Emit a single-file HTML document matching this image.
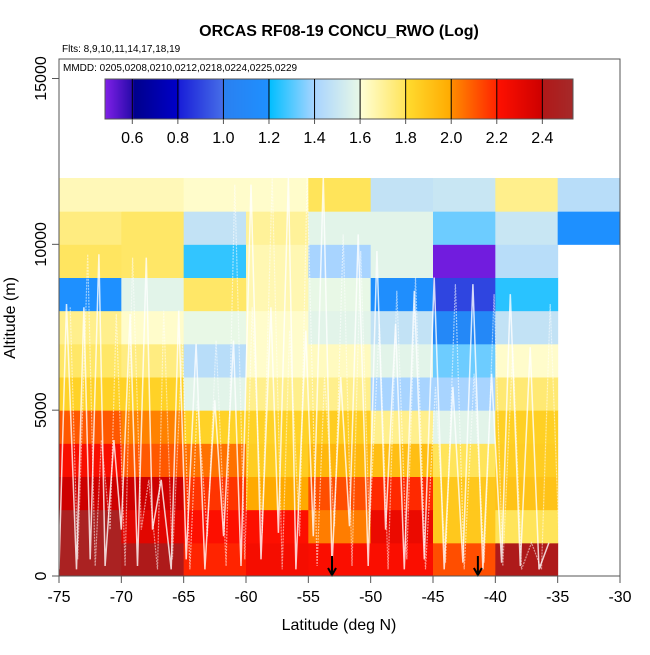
<!DOCTYPE html>
<html><head><meta charset="utf-8"><style>
body{margin:0;background:#fff;}
svg text{font-family:"Liberation Sans",sans-serif;}
</style></head><body>
<svg id="chart" width="650" height="650" viewBox="0 0 650 650" xmlns="http://www.w3.org/2000/svg">
<g id="cells"></g>
<g id="tracks"></g>
<g id="arrows"></g>
<rect x="59" y="59" width="561" height="517" fill="none" stroke="#555" stroke-width="1"/>
<text x="339" y="36" font-size="16" font-weight="bold" text-anchor="middle">ORCAS RF08-19 CONCU_RWO (Log)</text>
<text x="62" y="52" font-size="10">Flts: 8,9,10,11,14,17,18,19</text>
<text x="63" y="71" font-size="10">MMDD: 0205,0208,0210,0212,0218,0224,0225,0229</text>
<g id="cbar"></g>
<g id="xaxis"></g>
<g id="yaxis"></g>
<text x="339" y="630" font-size="16" text-anchor="middle">Latitude (deg N)</text>
<text transform="translate(15,318) rotate(-90)" font-size="16" text-anchor="middle">Altitude (m)</text>
</svg>
<script>
const latBins=[-75,-70,-65,-60,-55,-50,-45,-40,-35,-30];
const altBins=[0,1000,2000,3000,4000,5000,6000,7000,8000,9000,10000,11000,12000];
// rows from bottom (0-1k) upward; null = no data
const cellValues=[
[2.48,2.42,2.20,2.24,2.22,2.22,2.12,2.42,null],
[2.48,2.32,2.21,2.21,2.03,2.28,1.88,1.80,null],
[2.40,2.40,2.17,2.00,2.12,2.19,1.88,1.90,null],
[2.23,2.10,2.05,1.86,1.95,1.92,1.80,1.86,null],
[2.10,2.02,1.84,1.84,1.86,1.72,1.58,1.85,null],
[1.84,1.84,1.58,1.72,1.72,1.40,1.40,1.76,null],
[1.78,1.74,1.45,1.62,1.64,1.58,1.33,1.62,null],
[1.72,1.62,1.60,1.62,1.58,1.48,1.10,1.48,null],
[1.20,1.58,1.78,1.66,1.60,1.18,0.90,1.25,null],
[1.79,1.78,1.26,1.66,1.40,1.58,0.50,1.45,null],
[1.74,1.78,1.48,1.70,1.58,1.58,1.33,1.50,1.20],
[1.65,1.65,1.62,1.62,1.80,1.48,1.50,1.72,1.45]
];
const cbarTicks=[0.6,0.8,1.0,1.2,1.4,1.6,1.8,2.0,2.2,2.4];
const xTicks=[-75,-70,-65,-60,-55,-50,-45,-40,-35,-30];
const yTicks=[0,5000,10000,15000];
const arrowLats=[-53.1,-41.4];
const trackLat=[-75,-74.4,-73.6,-73,-72.5,-71.8,-71.3,-70.6,-70,-69.3,-68.7,-68,-67.5,-66.8,-66,-65.4,-64.8,-64,-63.3,-62.5,-61.8,-61,-60.4,-59.6,-58.8,-58,-57.4,-56.6,-56,-55.2,-54.6,-53.8,-53.1,-52.4,-51.7,-51,-50.2,-49.5,-48.8,-48,-47.3,-46.5,-45.7,-44.9,-44.1,-43.4,-42.6,-41.8,-41,-40.3,-39.5,-38.8,-38,-37.2,-36.5,-35.7];
const trackAlt=[200,8200,200,8100,500,9700,300,4100,1400,7900,300,9600,1400,2900,200,8000,500,7000,200,5300,1200,7100,300,11800,500,8100,1300,12000,200,7400,1200,12000,300,6000,1500,10300,300,9800,1400,7600,200,8600,500,9000,200,5700,400,8800,200,6100,400,8500,300,6900,200,1000];

const svg=document.getElementById('chart');
const NS='http://www.w3.org/2000/svg';
const X0=59,X1=620,Y0=576,PX=0.033167;
function xs(v){return X0+(v+75)/45*(X1-X0);}
function ys(v){return Y0-v*PX;}
const stops=[[0.48,[128,32,232]],[0.6,[40,10,170]],[0.61,[0,0,140]],[0.8,[0,0,200]],[0.81,[26,32,216]],[1.0,[70,110,232]],[1.001,[42,128,240]],[1.2,[30,144,255]],[1.201,[0,190,255]],[1.4,[168,212,255]],[1.6,[232,248,230]],[1.601,[255,255,215]],[1.8,[255,228,90]],[1.801,[255,220,48]],[2.0,[255,170,0]],[2.001,[255,140,0]],[2.2,[255,36,0]],[2.201,[255,16,0]],[2.4,[205,0,0]],[2.401,[176,24,24]],[2.54,[165,42,42]]];
function col(v){
  if(v<=stops[0][0])return 'rgb('+stops[0][1]+')';
  for(let i=1;i<stops.length;i++){
    if(v<=stops[i][0]){const a=stops[i-1],b=stops[i];const t=(v-a[0])/(b[0]-a[0]);
      return 'rgb('+a[1].map((c,k)=>Math.round(c+(b[1][k]-c)*t)).join(',')+')';}
  }
  return 'rgb('+stops[stops.length-1][1]+')';
}
function mk(tag,attrs,parent){const e=document.createElementNS(NS,tag);for(const k in attrs)e.setAttribute(k,attrs[k]);parent.appendChild(e);return e;}

const gc=document.getElementById('cells');
cellValues.forEach((row,r)=>row.forEach((v,c)=>{
  if(v===null)return;
  const e=mk('rect',{x:xs(latBins[c]),y:ys(altBins[r+1]),width:xs(latBins[c+1])-xs(latBins[c])+0.5,height:ys(altBins[r])-ys(altBins[r+1])+0.5,fill:col(v)},gc);
  
  
}));

const gt=document.getElementById('tracks');
let pts=trackLat.map((la,i)=>xs(la).toFixed(1)+','+ys(trackAlt[i]).toFixed(1)).join(' ');
const tl=mk('polyline',{points:pts,fill:'none',stroke:'#fff',"stroke-width":1.5,opacity:0.8},gt);


let pts2=trackLat.map((la,i)=>xs(la+0.9).toFixed(1)+','+ys(trackAlt[(i+3)%trackAlt.length]).toFixed(1)).join(' ');
const tl2=mk('polyline',{points:pts2,fill:'none',stroke:'#fff',"stroke-width":1.2,"stroke-dasharray":"2,1",opacity:0.55},gt);



const ga=document.getElementById('arrows');
arrowLats.forEach(la=>{
  const x=xs(la);
  const p=mk('path',{d:`M${x},${Y0-20}V${Y0-1}M${x-4},${Y0-8}L${x},${Y0-1}L${x+4},${Y0-8}`,stroke:'#000',"stroke-width":2,fill:'none'},ga);
  
  
});

const gb=document.getElementById('cbar');
const CB0=105,CB1=573;
function cx(v){return 132.3+(v-0.6)*227.8;}
for(let px=CB0;px<CB1;px++){
  const v=0.6+(px+0.5-132.3)/227.8;
  mk('rect',{x:px,y:79,width:1.2,height:40,fill:col(v)},gb);
}
mk('rect',{x:CB0,y:79,width:CB1-CB0,height:40,fill:'none',stroke:'#555'},gb);
cbarTicks.forEach(t=>{
  mk('line',{x1:cx(t),x2:cx(t),y1:79,y2:119,stroke:'#000'},gb);
  mk('line',{x1:cx(t),x2:cx(t),y1:119,y2:124,stroke:'#555'},gb);
  const tx=mk('text',{x:cx(t),y:143,"font-size":16,"text-anchor":"middle"},gb);
  tx.textContent=t.toFixed(1);
  
  
});

const gx=document.getElementById('xaxis');
xTicks.forEach(t=>{
  mk('line',{x1:xs(t),x2:xs(t),y1:Y0,y2:Y0+7,stroke:'#555'},gx);
  const tx=mk('text',{x:xs(t),y:602,"font-size":16,"text-anchor":"middle"},gx);
  tx.textContent=t;
  
  
});
const gy=document.getElementById('yaxis');
yTicks.forEach(t=>{
  mk('line',{x1:X0-7,x2:X0,y1:ys(t),y2:ys(t),stroke:'#555'},gy);
  const tx=mk('text',{transform:`translate(46,${ys(t)}) rotate(-90)`,"font-size":16,"text-anchor":"middle"},gy);
  tx.textContent=t;
  
  
});
</script>
</body></html>
